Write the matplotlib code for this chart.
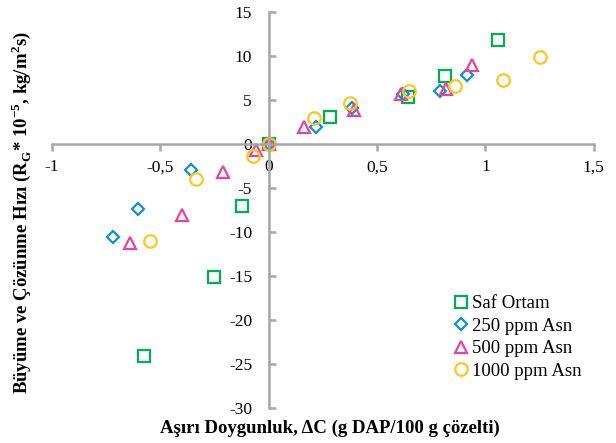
import numpy as np
import matplotlib.pyplot as plt

plt.rcParams['font.family'] = ['Liberation Serif', 'DejaVu Serif']
plt.rcParams['mathtext.fontset'] = 'custom'
plt.rcParams['mathtext.rm'] = 'Liberation Serif:bold'
plt.rcParams['axes.unicode_minus'] = False

# Data
saf_x = [-0.577, -0.251, -0.122, 0.0, 0.282, 0.642, 0.813, 1.059]
saf_y = [-24.1, -15.1, -7.1, 0.0, 3.07, 5.3, 7.7, 11.8]

asn250_x = [-0.72, -0.605, -0.358, 0.0, 0.216, 0.383, 0.62, 0.79, 0.915]
asn250_y = [-10.6, -7.4, -2.95, 0.0, 1.97, 4.05, 5.7, 6.06, 7.8]

asn500_x = [-0.642, -0.40, -0.21, -0.06, 0.0, 0.164, 0.395, 0.61, 0.82, 0.938]
asn500_y = [-11.2, -8.07, -3.2, -0.7, 0.0, 1.97, 3.86, 5.7, 6.2, 9.0]

asn1000_x = [-0.546, -0.335, -0.073, 0.0, 0.21, 0.375, 0.645, 0.861, 1.079, 1.251]
asn1000_y = [-11.0, -3.98, -1.36, 0.0, 2.9, 4.6, 6.0, 6.6, 7.27, 9.85]

labels = ['Saf Ortam', '250 ppm Asn', '500 ppm Asn', '1000 ppm Asn']
x_ticks = [-1, -0.5, 0, 0.5, 1, 1.5]
x_tick_labels = ['-1', '-0,5', '0', '0,5', '1', '1,5']
y_ticks = list(range(-30, 16, 5))

fig = plt.figure(figsize=(6.16, 4.43), dpi=100)
ax = fig.add_axes([0.0844, 0.079, 0.8796, 0.894])

ms = 8.5
mew = 1.6
ax.plot(saf_x, saf_y, 's', ms=ms, mfc='none', mec='#00B050', mew=mew, label=labels[0])
ax.plot(asn250_x, asn250_y, 'D', ms=ms - 2, mfc='none', mec='#0A90D8', mew=mew, label=labels[1])
ax.plot(asn500_x, asn500_y, '^', ms=ms + 0.5, mfc='none', mec='#E8449A', mew=mew, label=labels[2])
ax.plot(asn1000_x, asn1000_y, 'o', ms=ms + 0.5, mfc='none', mec='#FFC61E', mew=mew, label=labels[3])

ax.set_xlim(-1, 1.5)
ax.set_ylim(-30, 15)
ax.spines['left'].set_position(('data', 0))
ax.spines['bottom'].set_position(('data', 0))
ax.spines['right'].set_visible(False)
ax.spines['top'].set_visible(False)
for s in ['left', 'bottom']:
    ax.spines[s].set_color('#A6A6A6')
    ax.spines[s].set_linewidth(1.8)

ax.set_xticks(x_ticks)
ax.set_xticklabels(x_tick_labels)
ax.set_yticks(y_ticks)
ax.tick_params(axis='x', direction='out', length=5, width=1.8, color='#A6A6A6', labelsize=12.5, pad=6)
ax.tick_params(axis='y', direction='in', length=5, width=1.8, color='#A6A6A6', labelsize=12.5, pad=12)

fig.text(0.535, 0.033, 'Aşırı Doygunluk, ΔC (g DAP/100 g çözelti)', ha='center', va='center',
         fontsize=13.5, fontweight='bold')
fig.text(0.034, 0.52,
         r'Büyüme ve Çözünme Hızı (R$_\mathregular{G}$* 10$^{\mathregular{-5}}$, kg/m$^{\mathregular{2}}$s)',
         ha='center', va='center', rotation=90, fontsize=13.5, fontweight='bold')

ax.legend(loc='upper left', bbox_to_anchor=(0.74, 0.334), bbox_transform=fig.transFigure,
          frameon=False, fontsize=13.5, handlelength=0.6, handletextpad=0.25,
          labelspacing=0.29, borderaxespad=0, borderpad=0)

fig.savefig('out.png', dpi=100)
